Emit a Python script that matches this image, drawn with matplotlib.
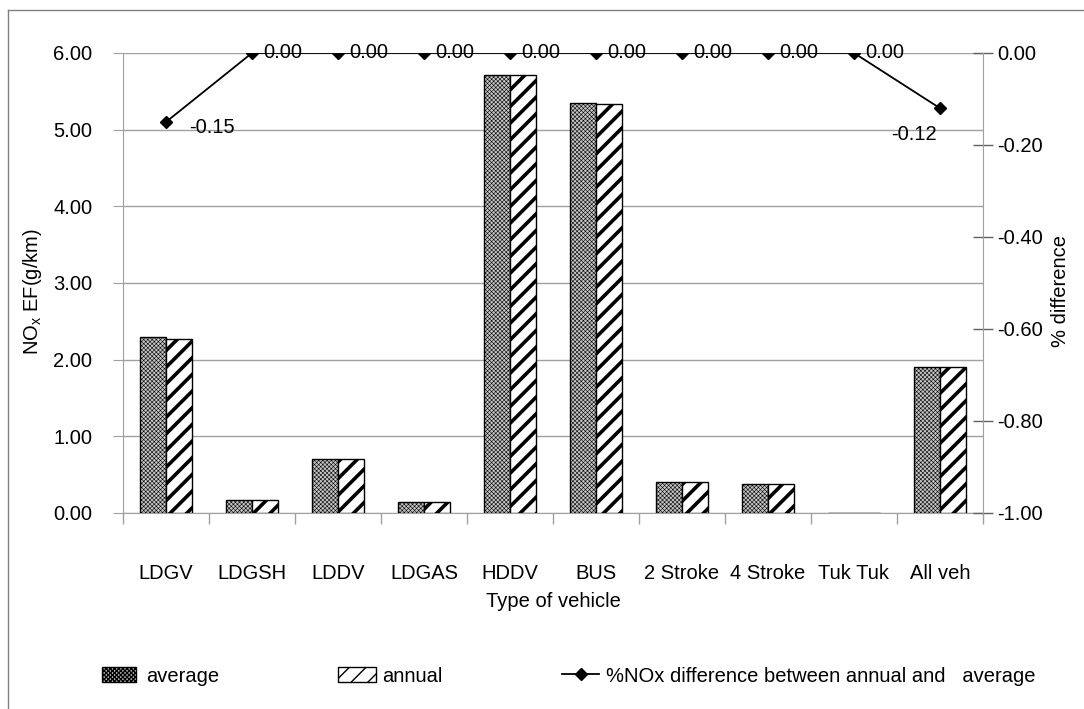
import matplotlib
matplotlib.use("Agg")
import matplotlib.pyplot as plt
import numpy as np
from matplotlib.lines import Line2D

plt.rcParams['font.family'] = ['Liberation Sans', 'DejaVu Sans']
plt.rcParams['font.size'] = 14.5

# data
vehicles = ['LDGV', 'LDGSH', 'LDDV', 'LDGAS', 'HDDV', 'BUS',
            '2 Stroke', '4 Stroke', 'Tuk Tuk', 'All veh']
average = [2.29, 0.17, 0.70, 0.14, 5.71, 5.35, 0.40, 0.38, 0.0, 1.91]
annual = [2.27, 0.17, 0.70, 0.14, 5.71, 5.34, 0.40, 0.38, 0.0, 1.91]
pct_diff = [-0.15, 0.0, 0.0, 0.0, 0.0, 0.0, 0.0, 0.0, 0.0, -0.12]


def fmt(v):
    return '%.2f' % (0.0 if abs(v) < 1e-9 else v)


W, H = 1084, 709
fig = plt.figure(figsize=(W / 100, H / 100), dpi=100)
ax = fig.add_axes([123 / W, 1 - 513 / H, 860 / W, 460 / H])

x = np.arange(len(vehicles))
bw = 0.3
with plt.rc_context({'hatch.linewidth': 0.4}):
    b1 = ax.bar(x - bw / 2, average, bw, facecolor='#c6c6c6', edgecolor='black',
                linewidth=1, hatch='xxxxxxxx', zorder=3)
with plt.rc_context({'hatch.linewidth': 2.6}):
    b2 = ax.bar(x + bw / 2, annual, bw, facecolor='white', edgecolor='black',
                linewidth=1, hatch='//', zorder=3)

ax.set_xlim(-0.5, len(vehicles) - 0.5)
ax.set_ylim(0, 6)
yt = np.arange(0, 7, 1)
ax.set_yticks(yt)
ax.set_yticklabels([fmt(v) for v in yt])
ax.grid(axis='y', color='#a0a0a0', linewidth=1, zorder=0)
ax.set_xticks(x)
ax.set_xticklabels(vehicles)
ax.set_xticks(np.arange(-0.5, len(vehicles), 1), minor=True)
ax.tick_params(axis='x', which='major', length=0, pad=37)
ax.tick_params(axis='x', which='minor', length=8, direction='out', color='#a0a0a0', width=1)
ax.tick_params(axis='y', length=7, direction='out', color='#a0a0a0', pad=15)
for s in ['top', 'right']:
    ax.spines[s].set_visible(False)
for s in ['left', 'bottom']:
    ax.spines[s].set_color('#a0a0a0')
ax.set_xlabel('Type of vehicle', labelpad=6)

ax2 = ax.twinx()
ax2.plot(x, pct_diff, color='black', linewidth=1.3, marker='D', markersize=6, zorder=5)
ax2.set_ylim(-1, 0)
yt2 = np.linspace(-1, 0, 6)
ax2.set_yticks(yt2)
ax2.set_yticklabels([fmt(v) for v in yt2])
ax2.tick_params(axis='y', length=14, direction='inout', color='#606060', width=1, pad=3)
for s in ['top', 'left', 'bottom']:
    ax2.spines[s].set_visible(False)
ax2.spines['right'].set_color('#a0a0a0')

for i, v in enumerate(pct_diff):
    if i == 0:
        ax2.annotate(fmt(v), (x[i], v), xytext=(17, -4), textcoords='offset points',
                     ha='left', va='center')
    elif i == len(pct_diff) - 1:
        ax2.annotate(fmt(v), (x[i], v), xytext=(-2, -19), textcoords='offset points',
                     ha='right', va='center')
    else:
        ax2.annotate(fmt(v), (x[i], v), xytext=(8, 0), textcoords='offset points',
                     ha='left', va='center')

fig.text(33 / W, 1 - 292 / H, r'NO$_\mathregular{x}$ EF(g/km)', rotation=90,
         ha='center', va='center')
fig.text(1060 / W, 1 - 291 / H, '% difference', rotation=90, ha='center', va='center')

# legend, three pieces placed like the original
h_line = Line2D([], [], color='black', linewidth=1.3, marker='D', markersize=6)
leg_kw = dict(frameon=False, borderpad=0, borderaxespad=0, loc='center left')
fig.legend([b1], ['average'], bbox_to_anchor=(102 / W, 1 - 676 / H),
           handlelength=1.7, handleheight=0.8, handletextpad=0.5, **leg_kw)
fig.legend([b2], ['annual'], bbox_to_anchor=(338 / W, 1 - 676 / H),
           handlelength=1.9, handleheight=0.8, handletextpad=0.3, **leg_kw)
fig.legend([h_line], ['%NOx difference between annual and   average'],
           bbox_to_anchor=(562 / W, 1 - 676 / H),
           handlelength=1.85, handletextpad=0.35, **leg_kw)

# outer chart frame (left and top edges visible)
fig.add_artist(Line2D([8 / W, 8 / W], [0, 1 - 10 / H], color='#808080', linewidth=1,
                      transform=fig.transFigure))
fig.add_artist(Line2D([8 / W, 1], [1 - 10 / H, 1 - 10 / H], color='#808080', linewidth=1,
                      transform=fig.transFigure))

fig.savefig('out.png', dpi=100)
